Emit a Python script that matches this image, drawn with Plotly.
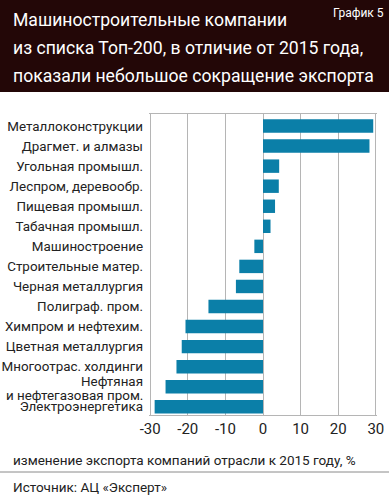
import plotly.graph_objects as go

categories = [
    "Металлоконструкции",
    "Драгмет. и алмазы",
    "Угольная промышл.",
    "Леспром, деревообр.",
    "Пищевая промышл.",
    "Табачная промышл.",
    "Машиностроение",
    "Строительные матер.",
    "Черная металлургия",
    "Полиграф. пром.",
    "Химпром и нефтехим.",
    "Цветная металлургия",
    "Многоотрас. холдинги",
    "Нефтяная и нефтегазовая пром.",
    "Электроэнергетика",
]
values = [29.3, 28.3, 4.3, 4.2, 3.2, 2.0, -2.3, -6.3, -7.2, -14.5, -20.6, -21.6, -23.0, -25.9, -28.8]
tick_vals = [-30, -20, -10, 0, 10, 20, 30]
tick_text = ["-30", "-20", "-10", "0", "10", "20", "30"]
# the long category label is wrapped into two tightly spaced lines
wrapped_label = {"Нефтяная и нефтегазовая пром.": ["Нефтяная", "и нефтегазовая пром."]}

title_lines = [
    "Машиностроительные компании",
    "из списка Топ-200, в отличие от 2015 года,",
    "показали небольшое сокращение экспорта",
]
chart_no = "График 5"
axis_title = "изменение экспорта компаний отрасли к 2015 году, %"
source = "Источник: АЦ «Эксперт»"

W, H = 389, 500
L, R, T, B = 149, 12, 114, 85
PW, PH = W - L - R, H - T - B
FONT = "Roboto, sans-serif"
LABEL_SIZE = 13.4


def px(x):
    return (x - L) / PW


def py(y):
    return (H - B - y) / PH


fig = go.Figure()
fig.add_trace(go.Bar(
    x=values, y=categories, orientation="h",
    marker=dict(color="#0b7fa8", line=dict(width=0)),
    width=0.67,
))

shapes = [
    dict(type="rect", xref="paper", yref="paper", x0=px(0), x1=px(W), y0=py(92), y1=py(0),
         fillcolor="#230707", line=dict(width=0), layer="below"),
    dict(type="line", xref="paper", yref="paper", x0=px(0), x1=px(W), y0=py(472), y1=py(472),
         line=dict(color="#8a8a8a", width=1)),
]
annotations = []
for i, t in enumerate(title_lines):
    annotations.append(dict(text=t, xref="paper", yref="paper", x=px(11), y=py(20 + 28 * i),
                            xanchor="left", yanchor="middle", showarrow=False,
                            font=dict(family=FONT, size=17.6, color="white")))
annotations.append(dict(text=chart_no, xref="paper", yref="paper", x=px(386), y=py(13),
                        xanchor="right", yanchor="middle", showarrow=False,
                        font=dict(family=FONT, size=12, color="white")))
annotations.append(dict(text=axis_title, xref="paper", yref="paper", x=px(11), y=py(460),
                        xanchor="left", yanchor="middle", showarrow=False,
                        font=dict(family=FONT, size=13.5, color="#222")))
annotations.append(dict(text=source, xref="paper", yref="paper", x=px(11), y=py(487),
                        xanchor="left", yanchor="middle", showarrow=False,
                        font=dict(family=FONT, size=13.5, color="#222")))

y_ticktext = []
for c in categories:
    if c in wrapped_label:
        y_ticktext.append("")
        lines = wrapped_label[c]
        for j, ln in enumerate(lines):
            annotations.append(dict(text=ln, xref="paper", yref="y", x=px(L - 5), y=c,
                                    yshift=5 - 14 * j, xanchor="right", yanchor="middle",
                                    showarrow=False, borderpad=0,
                                    font=dict(family=FONT, size=LABEL_SIZE, color="#222")))
    else:
        y_ticktext.append(c)

fig.update_layout(
    width=W, height=H,
    margin=dict(l=L, r=R, t=T, b=B),
    paper_bgcolor="white", plot_bgcolor="white",
    showlegend=False,
    shapes=shapes, annotations=annotations,
    font=dict(family=FONT, size=13, color="#222"),
    xaxis=dict(range=[-30.3, 30.3], tickvals=tick_vals, ticktext=tick_text,
               showgrid=True, gridcolor="#b5b5b5", gridwidth=1.2,
               zeroline=True, zerolinecolor="#b5b5b5", zerolinewidth=1.2,
               showline=True, linecolor="#b5b5b5", mirror=True, automargin=False,
               tickfont=dict(family=FONT, size=15, color="#222"), ticks="", ticklen=0),
    yaxis=dict(range=[14.41, -0.6], showgrid=False, zeroline=False, automargin=False,
               tickmode="array", tickvals=categories, ticktext=y_ticktext,
               showline=False, ticks="", ticklabelstandoff=5,
               tickfont=dict(family=FONT, size=LABEL_SIZE, color="#222")),
)
fig.write_html("out.html", config={"displayModeBar": False},
               post_script="document.body.style.margin='0';")
